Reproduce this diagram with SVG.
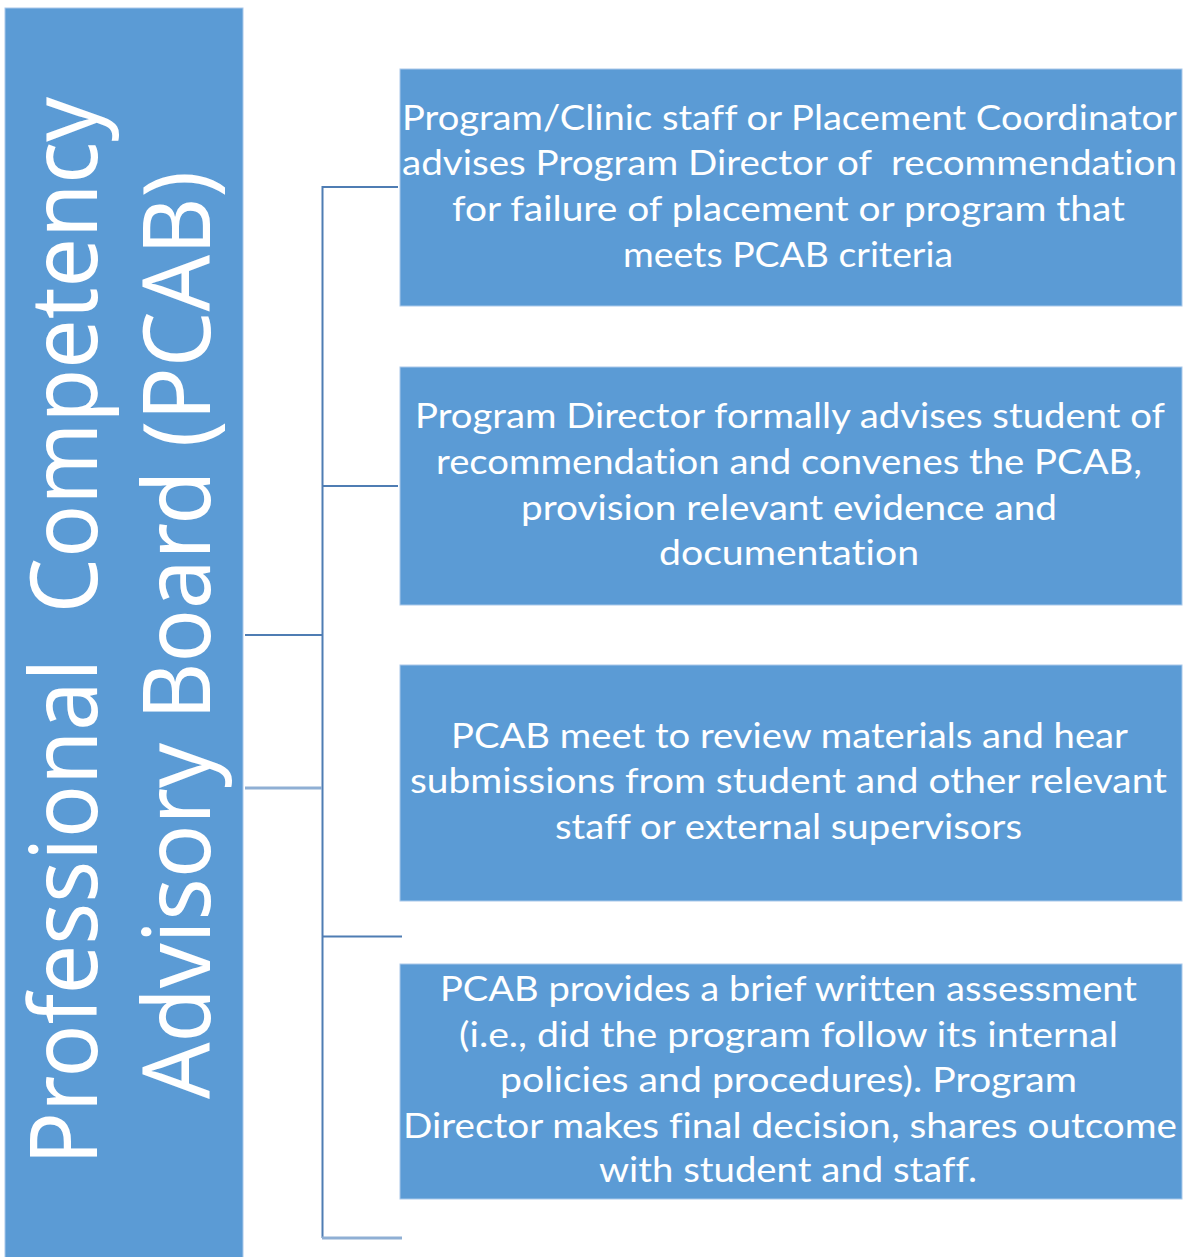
<svg xmlns="http://www.w3.org/2000/svg" width="1184" height="1257" viewBox="0 0 1184 1257">
<style>
.box{fill:#5B9BD5;stroke:#A9C8EA;stroke-width:1}
.t{font-family:Lato,"Open Sans","Liberation Sans",sans-serif;font-size:34px;fill:#FFFFFF;text-anchor:middle;font-variant-ligatures:none}
.big{font-family:"Noto Sans","Open Sans","Liberation Sans",sans-serif;font-size:94px;fill:#FFFFFF;text-anchor:middle}
.c{fill:none;stroke:#4F7DB3;stroke-width:2}
.cl{fill:none;stroke:#8FAFD4;stroke-width:3}
</style>
<rect width="1184" height="1257" fill="#FFFFFF"/>
<g id="connectors">
<line class="c" x1="322.5" y1="186" x2="322.5" y2="1238"/>
<line class="c" x1="322" y1="187" x2="398" y2="187"/>
<line class="c" x1="322" y1="486" x2="398" y2="486"/>
<line class="c" x1="245" y1="635" x2="322" y2="635"/>
<line class="cl" x1="245" y1="788" x2="322" y2="788"/>
<line class="c" x1="322" y1="936.5" x2="402" y2="936.5"/>
<line class="cl" x1="322" y1="1238" x2="402" y2="1238"/>
</g>
<g id="pcab">
<rect class="box" x="5" y="8" width="238" height="1260"/>
<text class="big" transform="translate(97,631) rotate(-90)" xml:space="preserve" textLength="1068" lengthAdjust="spacingAndGlyphs">Professional  Competency</text>
<text class="big" transform="translate(210,635) rotate(-90)" textLength="928" lengthAdjust="spacingAndGlyphs">Advisory Board (PCAB)</text>
</g>
<g id="step1">
<rect class="box" x="400" y="69" width="782" height="237"/>
<text class="t" x="789.5" y="130" textLength="775" lengthAdjust="spacingAndGlyphs">Program/Clinic staff or Placement Coordinator</text>
<text class="t" x="789.5" y="175" xml:space="preserve" textLength="775" lengthAdjust="spacingAndGlyphs">advises Program Director of  recommendation</text>
<text class="t" x="788.5" y="221" textLength="673" lengthAdjust="spacingAndGlyphs">for failure of placement or program that</text>
<text class="t" x="788" y="267" textLength="330" lengthAdjust="spacingAndGlyphs">meets PCAB criteria</text>
</g>
<g id="step2">
<rect class="box" x="400" y="367" width="782" height="238"/>
<text class="t" x="790" y="428" textLength="750" lengthAdjust="spacingAndGlyphs">Program Director formally advises student of</text>
<text class="t" x="789" y="474" textLength="706" lengthAdjust="spacingAndGlyphs">recommendation and convenes the PCAB,</text>
<text class="t" x="789" y="520" textLength="536" lengthAdjust="spacingAndGlyphs">provision relevant evidence and</text>
<text class="t" x="789" y="565" textLength="260" lengthAdjust="spacingAndGlyphs">documentation</text>
</g>
<g id="step3">
<rect class="box" x="400" y="665" width="782" height="236"/>
<text class="t" x="789.5" y="748" textLength="677" lengthAdjust="spacingAndGlyphs">PCAB meet to review materials and hear</text>
<text class="t" x="788.5" y="793" textLength="757" lengthAdjust="spacingAndGlyphs">submissions from student and other relevant</text>
<text class="t" x="788.5" y="839" textLength="467" lengthAdjust="spacingAndGlyphs">staff or external supervisors</text>
</g>
<g id="step4">
<rect class="box" x="400" y="964" width="782" height="235"/>
<text class="t" x="788.5" y="1001" textLength="697" lengthAdjust="spacingAndGlyphs">PCAB provides a brief written assessment</text>
<text class="t" x="788.5" y="1047" textLength="659" lengthAdjust="spacingAndGlyphs">(i.e., did the program follow its internal</text>
<text class="t" x="788.5" y="1092" textLength="577" lengthAdjust="spacingAndGlyphs">policies and procedures). Program</text>
<text class="t" x="790" y="1138" textLength="774" lengthAdjust="spacingAndGlyphs">Director makes final decision, shares outcome</text>
<text class="t" x="788" y="1182" textLength="378" lengthAdjust="spacingAndGlyphs">with student and staff.</text>
</g>
</svg>
